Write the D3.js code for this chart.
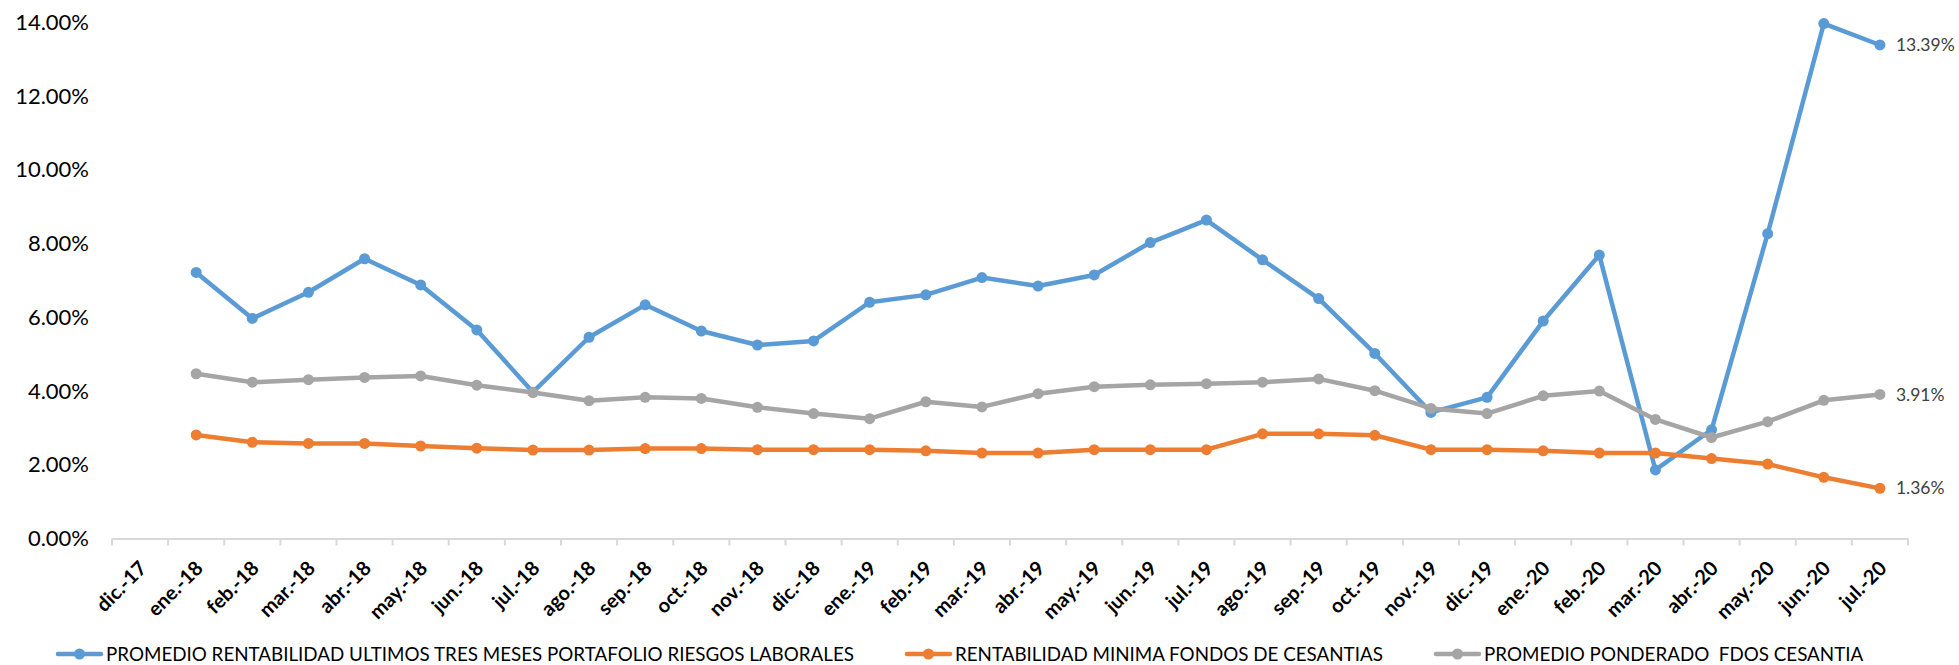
<!DOCTYPE html>
<html>
<head>
<meta charset="utf-8">
<script src="https://cdn.jsdelivr.net/npm/d3@7"></script>
<style>
  body { margin: 0; background: #ffffff; }
  text { font-family: Lato, "Open Sans", sans-serif; }
</style>
</head>
<body>
<div id="line-chart"></div>
<script>
var categories = ["dic.-17", "ene.-18", "feb.-18", "mar.-18", "abr.-18", "may.-18", "jun.-18", "jul.-18",
    "ago.-18", "sep.-18", "oct.-18", "nov.-18", "dic.-18", "ene.-19", "feb.-19", "mar.-19", "abr.-19",
    "may.-19", "jun.-19", "jul.-19", "ago.-19", "sep.-19", "oct.-19", "nov.-19", "dic.-19", "ene.-20",
    "feb.-20", "mar.-20", "abr.-20", "may.-20", "jun.-20", "jul.-20"];

// values in %
var promedioRiesgos = [null, 7.22, 5.97, 6.68, 7.59, 6.88, 5.66, 3.97, 5.46, 6.34, 5.63, 5.25, 5.36,
    6.41, 6.61, 7.08, 6.85, 7.15, 8.03, 8.64, 7.56, 6.51, 5.02, 3.42, 3.83, 5.90, 7.69, 1.86, 2.95,
    8.27, 13.97, 13.39];
var minimaCesantias = [null, 2.81, 2.61, 2.58, 2.58, 2.51, 2.45, 2.40, 2.40, 2.44, 2.44, 2.41, 2.41,
    2.41, 2.38, 2.32, 2.32, 2.41, 2.41, 2.41, 2.84, 2.84, 2.80, 2.41, 2.41, 2.38, 2.32, 2.32, 2.17,
    2.02, 1.66, 1.36];
var ponderadoCesantia = [null, 4.47, 4.24, 4.31, 4.37, 4.41, 4.16, 3.96, 3.74, 3.83, 3.80, 3.56, 3.39,
    3.25, 3.71, 3.57, 3.93, 4.12, 4.17, 4.20, 4.24, 4.33, 4.01, 3.53, 3.39, 3.87, 4.00, 3.23, 2.74,
    3.17, 3.75, 3.91];

var seriesNames = ["PROMEDIO RENTABILIDAD ULTIMOS TRES MESES PORTAFOLIO RIESGOS LABORALES",
    "RENTABILIDAD MINIMA FONDOS DE CESANTIAS",
    "PROMEDIO PONDERADO  FDOS CESANTIA"];
var yTicks = [0, 2, 4, 6, 8, 10, 12, 14];

var w = 1959;
var h = 665;
var color = ["#5b9bd5", "#ed7d31", "#a5a5a5"];
var allSeries = [promedioRiesgos, minimaCesantias, ponderadoCesantia];

var xScale = d3.scaleBand()
    .domain(categories)
    .range([112, 1908])
    .padding(0);

var yScale = d3.scaleLinear()
    .domain([0, 14])
    .range([538.5, 22.5]);

function cx(i) {
    return xScale(categories[i]) + xScale.bandwidth() / 2;
}

var svg = d3.select("#line-chart")
    .append("svg")
    .attr("width", w)
    .attr("height", h);

//Y axis (labels only)
var yAxis = d3.axisLeft(yScale)
    .tickValues(yTicks)
    .tickSize(0)
    .tickPadding(0)
    .tickFormat(function(d) { return d.toFixed(2) + "%"; });

svg.append("g")
    .attr("transform", "translate(89,0)")
    .call(yAxis)
    .call(function(g) { g.select(".domain").remove(); })
    .selectAll("text")
    .attr("font-family", "Lato, sans-serif")
    .attr("font-size", 22)
    .attr("fill", "#000");

//X axis
var xAxis = d3.axisBottom(xScale)
    .tickSize(0)
    .tickSizeOuter(0);

var xg = svg.append("g")
    .attr("transform", "translate(0," + yScale(0) + ")")
    .call(xAxis);

xg.select(".domain")
    .attr("stroke", "#d9d9d9")
    .attr("stroke-width", 2);

xg.selectAll("text")
    .attr("x", 0)
    .attr("y", 0)
    .attr("dy", "0.35em")
    .attr("text-anchor", "end")
    .attr("transform", "translate(3,26) rotate(-45)")
    .attr("font-family", "Lato, sans-serif")
    .attr("font-weight", "bold")
    .attr("font-size", 20)
    .attr("fill", "#000");

// tick marks between categories
var boundaries = categories.map(function(c) { return xScale(c); });
boundaries.push(xScale.range()[1]);
svg.append("g")
    .selectAll("line")
    .data(boundaries)
    .enter()
    .append("line")
    .attr("x1", function(d) { return d; })
    .attr("x2", function(d) { return d; })
    .attr("y1", yScale(0))
    .attr("y2", yScale(0) + 7)
    .attr("stroke", "#d9d9d9")
    .attr("stroke-width", 2);

//Lines + markers
var line = d3.line()
    .defined(function(d) { return d != null; })
    .x(function(d, i) { return cx(i); })
    .y(function(d) { return yScale(d); });

for (let s = 0; s < allSeries.length; s++) {
    svg.append("path")
        .datum(allSeries[s])
        .attr("fill", "none")
        .attr("stroke", color[s])
        .attr("stroke-width", 4.5)
        .attr("stroke-linejoin", "round")
        .attr("stroke-linecap", "round")
        .attr("d", line);

    svg.append("g")
        .selectAll("circle")
        .data(allSeries[s].map(function(d, i) { return {v: d, i: i}; }).filter(function(d) { return d.v != null; }))
        .enter()
        .append("circle")
        .attr("cx", function(d) { return cx(d.i); })
        .attr("cy", function(d) { return yScale(d.v); })
        .attr("r", 5.5)
        .attr("fill", color[s]);
}

// data labels on the last point
for (let s = 0; s < allSeries.length; s++) {
    var last = allSeries[s].length - 1;
    svg.append("text")
        .attr("x", cx(last) + 16)
        .attr("y", yScale(allSeries[s][last]))
        .attr("dy", "0.35em")
        .attr("font-size", 17.5)
        .attr("fill", "#404040")
        .text(allSeries[s][last].toFixed(2) + "%");
}

//Legend
var legendX = [58, 907, 1436];
var legendY = 654;
var legend = svg.append("g");
for (let s = 0; s < seriesNames.length; s++) {
    legend.append("line")
        .attr("x1", legendX[s])
        .attr("x2", legendX[s] + 43)
        .attr("y1", legendY)
        .attr("y2", legendY)
        .attr("stroke", color[s])
        .attr("stroke-width", 4.5)
        .attr("stroke-linecap", "round");
    legend.append("circle")
        .attr("cx", legendX[s] + 21.5)
        .attr("cy", legendY)
        .attr("r", 5.5)
        .attr("fill", color[s]);
    legend.append("text")
        .attr("x", legendX[s] + 48)
        .attr("y", legendY)
        .attr("dy", "0.36em")
        .attr("font-size", 18.8)
        .attr("fill", "#000")
        .style("white-space", "pre")
        .text(seriesNames[s]);
}
</script>
</body>
</html>
